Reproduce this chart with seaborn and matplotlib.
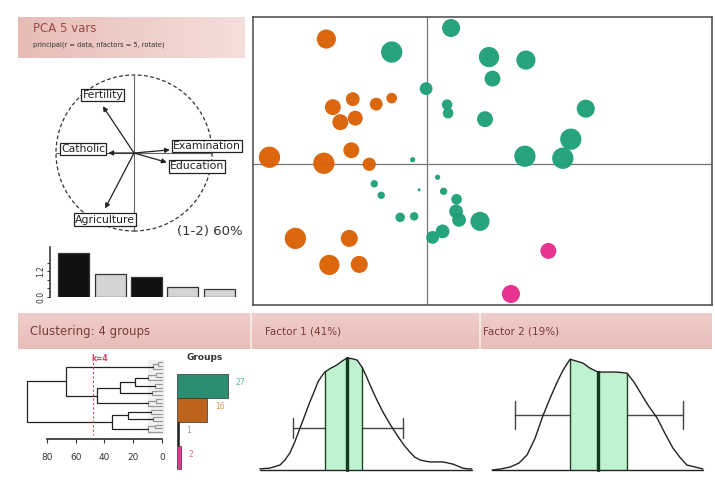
import numpy as np
import pandas as pd
import matplotlib
matplotlib.use("Agg")
import matplotlib.pyplot as plt
import seaborn as sns
from matplotlib.colors import LinearSegmentedColormap
from matplotlib.patches import Circle, Rectangle

W, H = 715, 483

# ------------------------------------------------------------------ data
var_names = ["Fertility", "Catholic", "Agriculture", "Examination", "Education"]
load_f1 = [-0.40, -0.33, -0.37, 0.46, 0.42]
load_f2 = [0.60, 0.00, -0.71, 0.04, -0.12]

eigen_labels = ["F1", "F2", "F3", "F4", "F5"]
eigen_values = [2.05, 1.07, 0.93, 0.47, 0.37]

score_f1 = [-2.01, -1.88, -1.48, -1.01, -0.70, -1.73, -1.43, -1.51, -3.15, -2.06,
            -1.15, -2.63, -1.55, -1.95, -1.35,
            0.49, -0.70, 1.25, 1.99, 1.32, -0.01, 0.41, 0.43, 1.17, 3.19,
            2.89, 1.97, 2.73, -0.28, 0.22, -1.05, -0.91, -0.15, 0.34, 0.60,
            0.59, 0.65, -0.53, -0.25, 1.07, 0.32, 0.12,
            2.44, 1.69]
score_f2 = [2.49, 1.13, 1.29, 1.19, 1.31, 0.83, 0.91, 0.27, 0.13, 0.01,
            -0.01, -1.49, -1.49, -2.02, -2.01,
            2.71, 2.23, 2.13, 2.07, 1.70, 1.50, 1.18, 1.01, 0.89, 1.10,
            0.49, 0.15, 0.11, 0.08, -0.27, -0.40, -0.63, -0.52, -0.55, -0.71,
            -0.95, -1.12, -1.07, -1.05, -1.15, -1.35, -1.47,
            -1.74, -2.60]
score_quality = [0.81, 0.56, 0.42, 0.36, 0.25, 0.56, 0.49, 0.56, 1.00, 1.00,
                 0.39, 1.00, 0.64, 0.90, 0.64,
                 0.72, 1.00, 0.90, 0.81, 0.56, 0.36, 0.25, 0.25, 0.56, 0.72,
                 1.00, 1.00, 1.00, 0.06, 0.06, 0.12, 0.12, 0.02, 0.12, 0.25,
                 0.42, 0.42, 0.20, 0.16, 0.81, 0.42, 0.36,
                 0.56, 0.72]
score_group = ["2"] * 15 + ["1"] * 27 + ["4"] * 2

group_names = ["1", "2", "3", "4"]
group_counts = [27, 16, 1, 2]
group_colors = ["#1b9e77", "#d95f02", "#222222", "#e7298a"]
group_label_colors = ["#5bbca6", "#e8964e", "#9a9a9a", "#ee5f9f"]

# dendrogram (scipy-like linkage: child a, child b, height); leaves 0..19
n_leaves = 20
link_a = [0, 20, 3, 22, 6, 8, 23, 26, 10, 28, 27, 21, 13, 15, 32, 17, 35, 34, 31]
link_b = [1, 2, 4, 5, 7, 9, 24, 25, 11, 12, 29, 30, 14, 16, 33, 18, 19, 36, 37]
link_h = [3, 6, 4, 10, 5, 7, 19, 29, 4, 10, 45, 67, 8, 6, 24, 5, 10, 35, 94]
cut_height = 48
dendro_ticks = [80, 60, 40, 20, 0]

# factor densities (traced): score, density
f1_x = [-2.49, -2.20, -1.91, -1.77, -1.63, -1.49, -1.34, -1.20, -1.06, -0.94, -0.83,
        -0.74, -0.63, -0.46, -0.29, -0.14, 0.00, 0.14, 0.29, 0.43, 0.54, 0.66, 0.83,
        1.03, 1.23, 1.43, 1.63, 1.80, 1.94, 2.09, 2.23, 2.37, 2.54, 2.74, 2.89, 3.03,
        3.17, 3.31, 3.46, 3.57]
f1_d = [0.004, 0.007, 0.018, 0.036, 0.061, 0.100, 0.150, 0.196, 0.243, 0.279, 0.314,
        0.332, 0.350, 0.364, 0.375, 0.389, 0.400, 0.398, 0.393, 0.368, 0.339, 0.304,
        0.257, 0.207, 0.164, 0.125, 0.089, 0.064, 0.046, 0.036, 0.032, 0.029, 0.029,
        0.029, 0.025, 0.021, 0.014, 0.007, 0.004, 0.004]
f1_quart = [-0.63, 0.00, 0.43]
f1_whisk = [-1.54, 1.60]
f1_level = 0.150

f2_x = [-3.03, -2.77, -2.51, -2.26, -2.03, -1.80, -1.57, -1.37, -1.17, -1.00, -0.80,
        -0.43, -0.23, 0.00, 0.26, 0.54, 0.83, 1.03, 1.20, 1.43, 1.69, 1.91, 2.14,
        2.34, 2.54, 2.77, 3.00]
f2_d = [0.000, 0.004, 0.011, 0.025, 0.054, 0.114, 0.196, 0.257, 0.314, 0.357, 0.396,
        0.382, 0.364, 0.350, 0.350, 0.350, 0.346, 0.314, 0.279, 0.232, 0.186, 0.132,
        0.079, 0.046, 0.018, 0.011, 0.004]
f2_quart = [-0.80, 0.00, 0.83]
f2_whisk = [-2.37, 2.43]
f2_level = 0.196

# ------------------------------------------------------------------ helpers
def rect(x0, y0, x1, y1):
    return [x0 / W, 1 - y1 / H, (x1 - x0) / W, (y1 - y0) / H]

def ftext(x, y, s, **kw):
    fig.text(x / W, 1 - y / H, s, **kw)

sns.set_theme(style="white")
plt.rcParams["font.family"] = ["DejaVu Sans"]
fig = plt.figure(figsize=(W / 100, H / 100), dpi=100)
fig.patch.set_facecolor("white")

band_cmap = LinearSegmentedColormap.from_list("band", ["#e8bcb6", "#f7e4e1"])

# ---- header bands
axb = fig.add_axes(rect(18, 17, 245, 58))
axb.imshow(np.linspace(0, 1, 100)[None, :] * 0.85, cmap=band_cmap, aspect="auto",
           vmin=0, vmax=1, extent=[0, 1, 0, 1])
axb.axis("off")
ftext(33, 28, "PCA 5 vars", fontsize=8.5, color="#9a4a4a", va="center")
ftext(33, 45, "principal(r = data, nfactors = 5, rotate)", fontsize=4.8,
      color="#333333", va="center")

axb2 = fig.add_axes(rect(18, 313, 712, 349))
grad = np.linspace(0.45, 0.05, 50)[:, None] * np.ones((1, 10))
axb2.imshow(grad, cmap=band_cmap, aspect="auto", vmin=0, vmax=1,
            extent=[0, 1, 0, 1])
axb2.axis("off")
for xs in (251, 480):
    fig.add_artist(plt.Line2D([xs / W, xs / W], [1 - 313 / H, 1 - 349 / H],
                              color="white", lw=1.2, alpha=0.7))
ftext(30, 331, "Clustering: 4 groups", fontsize=8.5, color="#7a3a3a", va="center")
ftext(265, 331, "Factor 1 (41%)", fontsize=7.5, color="#7a3a3a", va="center")
ftext(483, 331, "Factor 2 (19%)", fontsize=7.5, color="#7a3a3a", va="center")

# ---- correlation circle
axc = fig.add_axes(rect(46, 65, 222, 241))
axc.set_xlim(-1.128, 1.128)
axc.set_ylim(-1.128, 1.128)
axc.axis("off")
axc.add_patch(Circle((0, 0), 1.0, fill=False, ec="#333333", lw=0.9, ls=(0, (3, 2))))
axc.plot([0, 0], [-1, 1], color="#666666", lw=0.8)
axc.plot([-1, 1], [0, 0], color="#666666", lw=0.8)
for name, lx, ly in zip(var_names, load_f1, load_f2):
    axc.annotate("", xy=(lx, ly), xytext=(0, 0),
                 arrowprops=dict(arrowstyle="-|>", color="#222222", lw=0.9,
                                 mutation_scale=7, shrinkA=0, shrinkB=0))
    box = dict(boxstyle="square,pad=0.12", fc="white", ec="#222222", lw=0.9)
    if abs(ly) > 0.3:
        sgn = 1 if ly > 0 else -1
        axc.text(lx, ly + sgn * 0.08, name, ha="center",
                 va="bottom" if sgn > 0 else "top", fontsize=7.8, bbox=box,
                 color="#222222")
    else:
        sgn = 1 if lx > 0 else -1
        axc.text(lx + sgn * 0.04, ly + (0.05 if ly >= 0 else -0.05), name,
                 ha="left" if sgn > 0 else "right", va="center", fontsize=7.8,
                 bbox=box, color="#222222")
ftext(210, 231, "(1-2) 60%", fontsize=9.5, color="#333333", ha="center", va="center")

# ---- eigenvalues
axe = fig.add_axes(rect(50, 247.5, 240, 297))
sns.barplot(x=eigen_labels, y=eigen_values, hue=eigen_labels,
            palette=["#111111", "#d4d4d4", "#111111", "#d4d4d4", "#d4d4d4"],
            legend=False, width=0.85, edgecolor="#333333", linewidth=0.9, ax=axe)
axe.set_xlim(-0.65, 4.57)
axe.set_ylim(0, 2.3)
axe.set_xticks([])
axe.set_xlabel("")
axe.set_ylabel("")
axe.set_yticks([0, 0.4, 0.8, 1.2, 1.6])
axe.set_yticklabels(["0.0", "", "", "1.2", ""], rotation=90, va="center", fontsize=5.5)
for s in ("top", "right", "bottom"):
    axe.spines[s].set_visible(False)
axe.spines["left"].set_color("#444444")
axe.tick_params(axis="y", length=2.5, width=0.7, pad=1, colors="#333333", left=True)
axe.set_facecolor("none")

# ---- scatter of factor scores
df = pd.DataFrame({"f1": score_f1, "f2": score_f2, "q": score_quality, "g": score_group})
axs = fig.add_axes(rect(253, 17, 712, 305))
axs.axvline(0, color="#777777", lw=0.9, zorder=0)
axs.axhline(0, color="#777777", lw=0.9, zorder=0)
sns.scatterplot(data=df, x="f1", y="f2", hue="g",
                palette=dict(zip(group_names, group_colors)),
                size="q", sizes=(0, 235), size_norm=(0, 1), linewidth=0,
                alpha=0.95, legend=False, ax=axs)
axs.set_xlim(-3.48, 5.72)
axs.set_ylim(-2.82, 2.93)
axs.set_xticks([])
axs.set_yticks([])
axs.set_xlabel("")
axs.set_ylabel("")
for s in axs.spines.values():
    s.set_color("#555555")
    s.set_linewidth(1.2)

# ---- dendrogram
axd = fig.add_axes(rect(25.4, 355, 164.9, 439))
ypos = {i: float(i) for i in range(n_leaves)}
hpos = {i: 0.0 for i in range(n_leaves)}
node = n_leaves
for a, b, h in zip(link_a, link_b, link_h):
    col = "#9a9a9a" if h < 12 else "#222222"
    axd.plot([hpos[a], h, h, hpos[b]], [ypos[a], ypos[a], ypos[b], ypos[b]],
             color=col, lw=0.9, solid_joinstyle="miter")
    ypos[node] = (ypos[a] + ypos[b]) / 2
    hpos[node] = h
    node += 1
axd.add_patch(Rectangle((-2, -0.6), 12, n_leaves + 0.2, color="#d8d8d8",
                        alpha=0.35, lw=0, zorder=0))
axd.plot([cut_height, cut_height], [-1.2, n_leaves - 0.2], color="#e0405a",
         lw=0.8, ls=(0, (2, 2)))
axd.text(cut_height - 5, -0.9, "k=4", color="#e0405a", fontsize=5.5,
         fontweight="bold", ha="center", va="center")
axd.set_xlim(95, -2)
axd.set_ylim(20.9, -1.9)
axd.set_yticks([])
axd.set_xticks(dendro_ticks)
axd.set_xticklabels([str(t) for t in dendro_ticks], fontsize=6.5, color="#333333")
axd.tick_params(axis="x", length=3, width=0.8, pad=7, bottom=True, colors="#333333")
for s in ("top", "right", "left"):
    axd.spines[s].set_visible(False)
axd.spines["bottom"].set_bounds(80, 0)
axd.spines["bottom"].set_color("#333333")
axd.set_facecolor("none")

# ---- groups bar
axg = fig.add_axes(rect(177, 374, 252, 470))
sns.barplot(x=group_counts, y=group_names, hue=group_names, palette=group_colors,
            orient="h", width=1.0, legend=False, edgecolor="#333333", linewidth=0.5,
            ax=axg)
for i, (c, lc) in enumerate(zip(group_counts, group_label_colors)):
    axg.text(c + 4, i - 0.15, str(c), color=lc, fontsize=5.5, va="center")
axg.set_xlim(0, 39.7)
axg.set_ylim(3.5, -0.5)
axg.axis("off")
ftext(205, 357, "Groups", fontsize=6.5, fontweight="bold", color="#333333",
      ha="center", va="center")

# ---- factor densities
def density_panel(box, xs, ds, quart, whisk, level, cap, xlim):
    ax = fig.add_axes(rect(*box))
    xs = np.asarray(xs)
    ds = np.asarray(ds)
    m = (xs >= quart[0]) & (xs <= quart[2])
    ax.fill_between(xs[m], 0, ds[m], color="#bff2cf", lw=0, zorder=1)
    for q, lw, c in ((quart[0], 1.0, "#224422"), (quart[2], 1.0, "#224422"),
                     (quart[1], 2.4, "#0f3a1c")):
        k = int(np.argmin(np.abs(xs - q)))
        ax.plot([q, q], [0, ds[k]], color=c, lw=lw, zorder=3)
    ax.plot([whisk[0], quart[0]], [level, level], color="#444444", lw=1.0, zorder=2)
    ax.plot([quart[2], whisk[1]], [level, level], color="#444444", lw=1.0, zorder=2)
    for w in whisk:
        ax.plot([w, w], [level - cap, level + cap], color="#444444", lw=1.0, zorder=2)
    sns.lineplot(x=xs, y=ds, color="#222222", lw=1.0, sort=False, estimator=None,
                 ax=ax, zorder=4)
    ax.plot([xs[0], xs[-1]], [0, 0], color="#222222", lw=1.0, zorder=4)
    ax.set_xlim(*xlim)
    ax.set_ylim(-0.007, 0.411)
    ax.axis("off")
    return ax

density_panel((258, 355, 474, 472), f1_x, f1_d, f1_quart, f1_whisk, f1_level, 0.036,
              (-2.54, 3.63))
density_panel((490, 355, 705, 472), f2_x, f2_d, f2_quart, f2_whisk, f2_level, 0.05,
              (-3.09, 3.06))

fig.savefig("out.png", dpi=100, facecolor="white")
